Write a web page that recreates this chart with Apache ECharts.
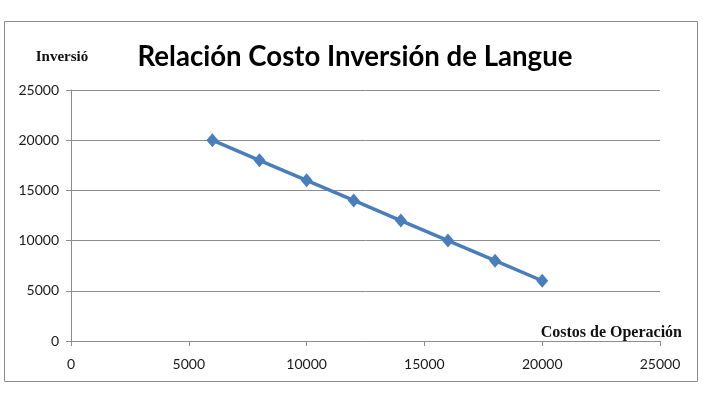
<!DOCTYPE html>
<html>
<head>
<meta charset="utf-8">
<script src="https://cdn.jsdelivr.net/npm/echarts@6/dist/echarts.min.js"></script>
<style>
  html, body { margin: 0; padding: 0; background: #fff; }
  #chart { width: 703px; height: 394px; }
</style>
</head>
<body>
<div id="chart"></div>
<script>
// Costos de Operación (x) vs Inversión (y)
const costos = [6000, 8000, 10000, 12000, 14000, 16000, 18000, 20000];
const inversion = [20000, 18000, 16000, 14000, 12000, 10000, 8000, 6000];

const points = costos.map((c, i) => [c, inversion[i]]);

const chart = echarts.init(document.getElementById('chart'));

const labelFont = {
    color: '#1a1a1a',
    fontFamily: 'Lato',
    fontSize: 14,
    formatter: (v) => String(v)
};
const nameFont = {
    color: '#111',
    fontFamily: 'Liberation Serif',
    fontWeight: 'bold',
    fontSize: 15
};

chart.setOption({
    backgroundColor: '#fff',
    animation: false,
    title: {
        text: 'Relación Costo Inversión de Langue',
        left: 355,
        top: 38,
        textAlign: 'center',
        textStyle: {
            fontFamily: 'Lato',
            fontWeight: 'bold',
            fontSize: 27.6,
            color: '#000'
        }
    },
    graphic: [{
        type: 'rect',
        shape: { x: 4.5, y: 21.5, width: 693, height: 360 },
        style: { fill: 'none', stroke: '#8c8c8c', lineWidth: 1 },
        silent: true
    }],
    grid: {
        left: 71,
        right: 43,
        top: 90,
        bottom: 53
    },
    xAxis: {
        type: 'value',
        min: 0,
        max: 25000,
        interval: 5000,
        name: 'Costos de Operación',
        nameLocation: 'end',
        nameGap: 22,
        nameTextStyle: Object.assign({}, nameFont, {
            fontSize: 16,
            align: 'right',
            verticalAlign: 'bottom',
            padding: [0, 0, 0, 0]
        }),
        axisLine: { show: true, lineStyle: { color: '#8c8c8c' } },
        axisTick: { show: true, length: 5, lineStyle: { color: '#8c8c8c' } },
        axisLabel: Object.assign({ margin: 16 }, labelFont),
        splitLine: { show: false }
    },
    yAxis: {
        type: 'value',
        min: 0,
        max: 25000,
        interval: 5000,
        name: 'Inversió',
        nameLocation: 'end',
        nameGap: 33,
        nameTextStyle: Object.assign({}, nameFont, {
            align: 'center',
            verticalAlign: 'middle',
            padding: [0, 18, 0, 0]
        }),
        axisLine: { show: true, lineStyle: { color: '#8c8c8c' } },
        axisTick: { show: true, length: 5, lineStyle: { color: '#8c8c8c' } },
        axisLabel: Object.assign({ margin: 12 }, labelFont),
        splitLine: { show: true, lineStyle: { color: '#8c8c8c', width: 1 } }
    },
    series: [{
        type: 'line',
        data: points,
        symbol: 'diamond',
        symbolSize: [12, 14],
        lineStyle: { color: '#4a7ebb', width: 3.5 },
        itemStyle: { color: '#4a7ebb' }
    }]
});
chart.setOption({ title: { left: 350 } });
</script>
</body>
</html>
